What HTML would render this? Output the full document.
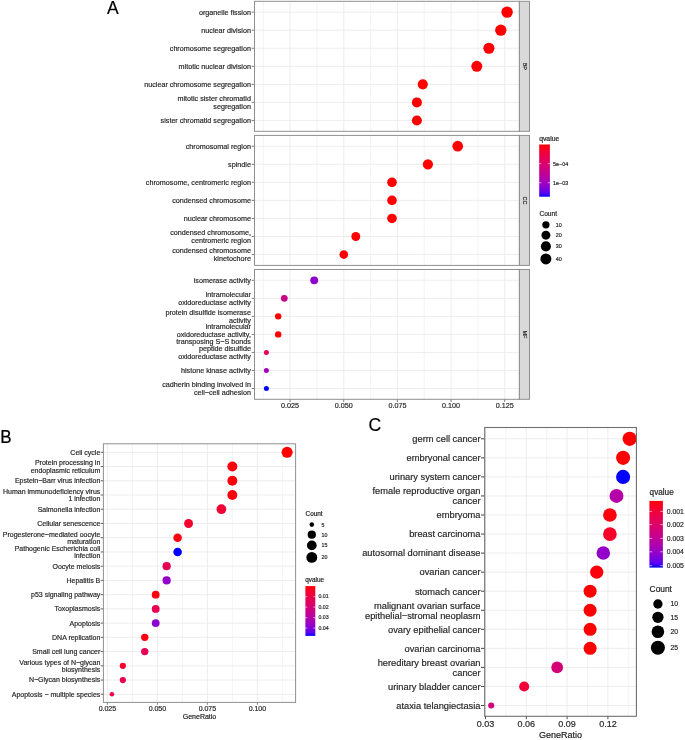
<!DOCTYPE html>
<html><head><meta charset="utf-8"><style>
html,body{margin:0;padding:0;background:#fff;}
body{width:685px;height:740px;overflow:hidden;}
svg{display:block;filter:blur(0.25px);}
text{font-family:"Liberation Sans", sans-serif;}
</style></head><body>
<svg width="685" height="740" viewBox="0 0 685 740">
<rect width="685" height="740" fill="#fff"/>
<rect x="254.5" y="1.3" width="264.9" height="130.0" fill="#fff"/>
<line x1="263.27" y1="1.30" x2="263.27" y2="131.30" stroke="#EBEBEB" stroke-width="0.6"/>
<line x1="316.93" y1="1.30" x2="316.93" y2="131.30" stroke="#EBEBEB" stroke-width="0.6"/>
<line x1="370.59" y1="1.30" x2="370.59" y2="131.30" stroke="#EBEBEB" stroke-width="0.6"/>
<line x1="424.25" y1="1.30" x2="424.25" y2="131.30" stroke="#EBEBEB" stroke-width="0.6"/>
<line x1="477.91" y1="1.30" x2="477.91" y2="131.30" stroke="#EBEBEB" stroke-width="0.6"/>
<line x1="254.50" y1="12.13" x2="519.40" y2="12.13" stroke="#EBEBEB" stroke-width="0.9"/>
<line x1="254.50" y1="30.19" x2="519.40" y2="30.19" stroke="#EBEBEB" stroke-width="0.9"/>
<line x1="254.50" y1="48.24" x2="519.40" y2="48.24" stroke="#EBEBEB" stroke-width="0.9"/>
<line x1="254.50" y1="66.30" x2="519.40" y2="66.30" stroke="#EBEBEB" stroke-width="0.9"/>
<line x1="254.50" y1="84.36" x2="519.40" y2="84.36" stroke="#EBEBEB" stroke-width="0.9"/>
<line x1="254.50" y1="102.41" x2="519.40" y2="102.41" stroke="#EBEBEB" stroke-width="0.9"/>
<line x1="254.50" y1="120.47" x2="519.40" y2="120.47" stroke="#EBEBEB" stroke-width="0.9"/>
<line x1="290.10" y1="1.30" x2="290.10" y2="131.30" stroke="#EBEBEB" stroke-width="0.9"/>
<line x1="343.76" y1="1.30" x2="343.76" y2="131.30" stroke="#EBEBEB" stroke-width="0.9"/>
<line x1="397.42" y1="1.30" x2="397.42" y2="131.30" stroke="#EBEBEB" stroke-width="0.9"/>
<line x1="451.08" y1="1.30" x2="451.08" y2="131.30" stroke="#EBEBEB" stroke-width="0.9"/>
<line x1="504.74" y1="1.30" x2="504.74" y2="131.30" stroke="#EBEBEB" stroke-width="0.9"/>
<circle cx="507.10" cy="12.13" r="5.70" fill="#FF0000"/>
<circle cx="500.80" cy="30.19" r="5.66" fill="#FF0000"/>
<circle cx="488.90" cy="48.24" r="5.58" fill="#FF0000"/>
<circle cx="476.80" cy="66.30" r="5.49" fill="#FF0000"/>
<circle cx="422.80" cy="84.36" r="5.08" fill="#FF0000"/>
<circle cx="416.90" cy="102.41" r="5.03" fill="#FF0000"/>
<circle cx="416.90" cy="120.47" r="5.03" fill="#FF0000"/>
<text x="250.90" y="14.58" font-size="7.2" text-anchor="end" fill="#262626" stroke="#262626" stroke-width="0.18">organelle fission</text>
<line x1="251.70" y1="12.13" x2="254.50" y2="12.13" stroke="#7c7c7c" stroke-width="1.0"/>
<text x="250.90" y="32.64" font-size="7.2" text-anchor="end" fill="#262626" stroke="#262626" stroke-width="0.18">nuclear division</text>
<line x1="251.70" y1="30.19" x2="254.50" y2="30.19" stroke="#7c7c7c" stroke-width="1.0"/>
<text x="250.90" y="50.69" font-size="7.2" text-anchor="end" fill="#262626" stroke="#262626" stroke-width="0.18">chromosome segregation</text>
<line x1="251.70" y1="48.24" x2="254.50" y2="48.24" stroke="#7c7c7c" stroke-width="1.0"/>
<text x="250.90" y="68.75" font-size="7.2" text-anchor="end" fill="#262626" stroke="#262626" stroke-width="0.18">mitotic nuclear division</text>
<line x1="251.70" y1="66.30" x2="254.50" y2="66.30" stroke="#7c7c7c" stroke-width="1.0"/>
<text x="250.90" y="86.81" font-size="7.2" text-anchor="end" fill="#262626" stroke="#262626" stroke-width="0.18">nuclear chromosome segregation</text>
<line x1="251.70" y1="84.36" x2="254.50" y2="84.36" stroke="#7c7c7c" stroke-width="1.0"/>
<text x="250.90" y="101.09" font-size="7.2" text-anchor="end" fill="#262626" stroke="#262626" stroke-width="0.18">mitotic sister chromatid</text>
<text x="250.90" y="108.64" font-size="7.2" text-anchor="end" fill="#262626" stroke="#262626" stroke-width="0.18">segregation</text>
<line x1="251.70" y1="102.41" x2="254.50" y2="102.41" stroke="#7c7c7c" stroke-width="1.0"/>
<text x="250.90" y="122.92" font-size="7.2" text-anchor="end" fill="#262626" stroke="#262626" stroke-width="0.18">sister chromatid segregation</text>
<line x1="251.70" y1="120.47" x2="254.50" y2="120.47" stroke="#7c7c7c" stroke-width="1.0"/>
<rect x="254.5" y="1.3" width="264.9" height="130.0" fill="none" stroke="#8f8f8f" stroke-width="1.0"/>
<rect x="519.4" y="1.3" width="10.100000000000023" height="130.0" fill="#D9D9D9" stroke="#8f8f8f" stroke-width="1.0"/>
<text x="0" y="0" font-size="5.5" text-anchor="middle" fill="#1a1a1a" stroke="#1a1a1a" stroke-width="0.15" transform="translate(522.75,66.30) rotate(90)">BP</text>
<rect x="254.5" y="135.4" width="264.9" height="129.99999999999997" fill="#fff"/>
<line x1="263.27" y1="135.40" x2="263.27" y2="265.40" stroke="#EBEBEB" stroke-width="0.6"/>
<line x1="316.93" y1="135.40" x2="316.93" y2="265.40" stroke="#EBEBEB" stroke-width="0.6"/>
<line x1="370.59" y1="135.40" x2="370.59" y2="265.40" stroke="#EBEBEB" stroke-width="0.6"/>
<line x1="424.25" y1="135.40" x2="424.25" y2="265.40" stroke="#EBEBEB" stroke-width="0.6"/>
<line x1="477.91" y1="135.40" x2="477.91" y2="265.40" stroke="#EBEBEB" stroke-width="0.6"/>
<line x1="254.50" y1="146.23" x2="519.40" y2="146.23" stroke="#EBEBEB" stroke-width="0.9"/>
<line x1="254.50" y1="164.29" x2="519.40" y2="164.29" stroke="#EBEBEB" stroke-width="0.9"/>
<line x1="254.50" y1="182.34" x2="519.40" y2="182.34" stroke="#EBEBEB" stroke-width="0.9"/>
<line x1="254.50" y1="200.40" x2="519.40" y2="200.40" stroke="#EBEBEB" stroke-width="0.9"/>
<line x1="254.50" y1="218.46" x2="519.40" y2="218.46" stroke="#EBEBEB" stroke-width="0.9"/>
<line x1="254.50" y1="236.51" x2="519.40" y2="236.51" stroke="#EBEBEB" stroke-width="0.9"/>
<line x1="254.50" y1="254.57" x2="519.40" y2="254.57" stroke="#EBEBEB" stroke-width="0.9"/>
<line x1="290.10" y1="135.40" x2="290.10" y2="265.40" stroke="#EBEBEB" stroke-width="0.9"/>
<line x1="343.76" y1="135.40" x2="343.76" y2="265.40" stroke="#EBEBEB" stroke-width="0.9"/>
<line x1="397.42" y1="135.40" x2="397.42" y2="265.40" stroke="#EBEBEB" stroke-width="0.9"/>
<line x1="451.08" y1="135.40" x2="451.08" y2="265.40" stroke="#EBEBEB" stroke-width="0.9"/>
<line x1="504.74" y1="135.40" x2="504.74" y2="265.40" stroke="#EBEBEB" stroke-width="0.9"/>
<circle cx="457.70" cy="146.23" r="5.36" fill="#FF0000"/>
<circle cx="427.90" cy="164.29" r="5.13" fill="#FF0000"/>
<circle cx="392.00" cy="182.34" r="4.82" fill="#FF0000"/>
<circle cx="392.00" cy="200.40" r="4.82" fill="#FF0000"/>
<circle cx="392.00" cy="218.46" r="4.82" fill="#FF0000"/>
<circle cx="355.80" cy="236.51" r="4.46" fill="#FF0000"/>
<circle cx="343.80" cy="254.57" r="4.32" fill="#FF0000"/>
<text x="250.90" y="148.68" font-size="7.2" text-anchor="end" fill="#262626" stroke="#262626" stroke-width="0.18">chromosomal region</text>
<line x1="251.70" y1="146.23" x2="254.50" y2="146.23" stroke="#7c7c7c" stroke-width="1.0"/>
<text x="250.90" y="166.74" font-size="7.2" text-anchor="end" fill="#262626" stroke="#262626" stroke-width="0.18">spindle</text>
<line x1="251.70" y1="164.29" x2="254.50" y2="164.29" stroke="#7c7c7c" stroke-width="1.0"/>
<text x="250.90" y="184.79" font-size="7.2" text-anchor="end" fill="#262626" stroke="#262626" stroke-width="0.18">chromosome, centromeric region</text>
<line x1="251.70" y1="182.34" x2="254.50" y2="182.34" stroke="#7c7c7c" stroke-width="1.0"/>
<text x="250.90" y="202.85" font-size="7.2" text-anchor="end" fill="#262626" stroke="#262626" stroke-width="0.18">condensed chromosome</text>
<line x1="251.70" y1="200.40" x2="254.50" y2="200.40" stroke="#7c7c7c" stroke-width="1.0"/>
<text x="250.90" y="220.91" font-size="7.2" text-anchor="end" fill="#262626" stroke="#262626" stroke-width="0.18">nuclear chromosome</text>
<line x1="251.70" y1="218.46" x2="254.50" y2="218.46" stroke="#7c7c7c" stroke-width="1.0"/>
<text x="250.90" y="235.19" font-size="7.2" text-anchor="end" fill="#262626" stroke="#262626" stroke-width="0.18">condensed chromosome,</text>
<text x="250.90" y="242.74" font-size="7.2" text-anchor="end" fill="#262626" stroke="#262626" stroke-width="0.18">centromeric region</text>
<line x1="251.70" y1="236.51" x2="254.50" y2="236.51" stroke="#7c7c7c" stroke-width="1.0"/>
<text x="250.90" y="253.24" font-size="7.2" text-anchor="end" fill="#262626" stroke="#262626" stroke-width="0.18">condensed chromosome</text>
<text x="250.90" y="260.79" font-size="7.2" text-anchor="end" fill="#262626" stroke="#262626" stroke-width="0.18">kinetochore</text>
<line x1="251.70" y1="254.57" x2="254.50" y2="254.57" stroke="#7c7c7c" stroke-width="1.0"/>
<rect x="254.5" y="135.4" width="264.9" height="129.99999999999997" fill="none" stroke="#8f8f8f" stroke-width="1.0"/>
<rect x="519.4" y="135.4" width="10.100000000000023" height="129.99999999999997" fill="#D9D9D9" stroke="#8f8f8f" stroke-width="1.0"/>
<text x="0" y="0" font-size="5.5" text-anchor="middle" fill="#1a1a1a" stroke="#1a1a1a" stroke-width="0.15" transform="translate(522.75,200.40) rotate(90)">CC</text>
<rect x="254.5" y="269.5" width="264.9" height="129.8" fill="#fff"/>
<line x1="263.27" y1="269.50" x2="263.27" y2="399.30" stroke="#EBEBEB" stroke-width="0.6"/>
<line x1="316.93" y1="269.50" x2="316.93" y2="399.30" stroke="#EBEBEB" stroke-width="0.6"/>
<line x1="370.59" y1="269.50" x2="370.59" y2="399.30" stroke="#EBEBEB" stroke-width="0.6"/>
<line x1="424.25" y1="269.50" x2="424.25" y2="399.30" stroke="#EBEBEB" stroke-width="0.6"/>
<line x1="477.91" y1="269.50" x2="477.91" y2="399.30" stroke="#EBEBEB" stroke-width="0.6"/>
<line x1="254.50" y1="280.32" x2="519.40" y2="280.32" stroke="#EBEBEB" stroke-width="0.9"/>
<line x1="254.50" y1="298.34" x2="519.40" y2="298.34" stroke="#EBEBEB" stroke-width="0.9"/>
<line x1="254.50" y1="316.37" x2="519.40" y2="316.37" stroke="#EBEBEB" stroke-width="0.9"/>
<line x1="254.50" y1="334.40" x2="519.40" y2="334.40" stroke="#EBEBEB" stroke-width="0.9"/>
<line x1="254.50" y1="352.43" x2="519.40" y2="352.43" stroke="#EBEBEB" stroke-width="0.9"/>
<line x1="254.50" y1="370.46" x2="519.40" y2="370.46" stroke="#EBEBEB" stroke-width="0.9"/>
<line x1="254.50" y1="388.48" x2="519.40" y2="388.48" stroke="#EBEBEB" stroke-width="0.9"/>
<line x1="290.10" y1="269.50" x2="290.10" y2="399.30" stroke="#EBEBEB" stroke-width="0.9"/>
<line x1="343.76" y1="269.50" x2="343.76" y2="399.30" stroke="#EBEBEB" stroke-width="0.9"/>
<line x1="397.42" y1="269.50" x2="397.42" y2="399.30" stroke="#EBEBEB" stroke-width="0.9"/>
<line x1="451.08" y1="269.50" x2="451.08" y2="399.30" stroke="#EBEBEB" stroke-width="0.9"/>
<line x1="504.74" y1="269.50" x2="504.74" y2="399.30" stroke="#EBEBEB" stroke-width="0.9"/>
<circle cx="314.20" cy="280.32" r="3.93" fill="#8D00CE"/>
<circle cx="284.30" cy="298.34" r="3.38" fill="#CA0088"/>
<circle cx="278.20" cy="316.37" r="3.22" fill="#FF0000"/>
<circle cx="278.20" cy="334.40" r="3.22" fill="#FF0000"/>
<circle cx="266.40" cy="352.43" r="2.50" fill="#E3005B"/>
<circle cx="266.40" cy="370.46" r="2.50" fill="#A200BB"/>
<circle cx="266.40" cy="388.48" r="2.50" fill="#0000FF"/>
<text x="250.90" y="282.77" font-size="7.2" text-anchor="end" fill="#262626" stroke="#262626" stroke-width="0.18">isomerase activity</text>
<line x1="251.70" y1="280.32" x2="254.50" y2="280.32" stroke="#7c7c7c" stroke-width="1.0"/>
<text x="250.90" y="297.02" font-size="7.2" text-anchor="end" fill="#262626" stroke="#262626" stroke-width="0.18">intramolecular</text>
<text x="250.90" y="304.57" font-size="7.2" text-anchor="end" fill="#262626" stroke="#262626" stroke-width="0.18">oxidoreductase activity</text>
<line x1="251.70" y1="298.34" x2="254.50" y2="298.34" stroke="#7c7c7c" stroke-width="1.0"/>
<text x="250.90" y="315.05" font-size="7.2" text-anchor="end" fill="#262626" stroke="#262626" stroke-width="0.18">protein disulfide isomerase</text>
<text x="250.90" y="322.60" font-size="7.2" text-anchor="end" fill="#262626" stroke="#262626" stroke-width="0.18">activity</text>
<line x1="251.70" y1="316.37" x2="254.50" y2="316.37" stroke="#7c7c7c" stroke-width="1.0"/>
<text x="250.90" y="329.30" font-size="7.2" text-anchor="end" fill="#262626" stroke="#262626" stroke-width="0.18">intramolecular</text>
<text x="250.90" y="336.85" font-size="7.2" text-anchor="end" fill="#262626" stroke="#262626" stroke-width="0.18">oxidoreductase activity,</text>
<text x="250.90" y="344.40" font-size="7.2" text-anchor="end" fill="#262626" stroke="#262626" stroke-width="0.18">transposing S−S bonds</text>
<line x1="251.70" y1="334.40" x2="254.50" y2="334.40" stroke="#7c7c7c" stroke-width="1.0"/>
<text x="250.90" y="351.10" font-size="7.2" text-anchor="end" fill="#262626" stroke="#262626" stroke-width="0.18">peptide disulfide</text>
<text x="250.90" y="358.65" font-size="7.2" text-anchor="end" fill="#262626" stroke="#262626" stroke-width="0.18">oxidoreductase activity</text>
<line x1="251.70" y1="352.43" x2="254.50" y2="352.43" stroke="#7c7c7c" stroke-width="1.0"/>
<text x="250.90" y="372.91" font-size="7.2" text-anchor="end" fill="#262626" stroke="#262626" stroke-width="0.18">histone kinase activity</text>
<line x1="251.70" y1="370.46" x2="254.50" y2="370.46" stroke="#7c7c7c" stroke-width="1.0"/>
<text x="250.90" y="387.16" font-size="7.2" text-anchor="end" fill="#262626" stroke="#262626" stroke-width="0.18">cadherin binding involved in</text>
<text x="250.90" y="394.71" font-size="7.2" text-anchor="end" fill="#262626" stroke="#262626" stroke-width="0.18">cell−cell adhesion</text>
<line x1="251.70" y1="388.48" x2="254.50" y2="388.48" stroke="#7c7c7c" stroke-width="1.0"/>
<rect x="254.5" y="269.5" width="264.9" height="129.8" fill="none" stroke="#8f8f8f" stroke-width="1.0"/>
<rect x="519.4" y="269.5" width="10.100000000000023" height="129.8" fill="#D9D9D9" stroke="#8f8f8f" stroke-width="1.0"/>
<text x="0" y="0" font-size="5.5" text-anchor="middle" fill="#1a1a1a" stroke="#1a1a1a" stroke-width="0.15" transform="translate(522.75,334.40) rotate(90)">MF</text>
<line x1="290.10" y1="399.30" x2="290.10" y2="402.00" stroke="#7c7c7c" stroke-width="1.0"/>
<text x="290.10" y="407.70" font-size="7.2" text-anchor="middle" fill="#262626" stroke="#262626" stroke-width="0.18">0.025</text>
<line x1="343.76" y1="399.30" x2="343.76" y2="402.00" stroke="#7c7c7c" stroke-width="1.0"/>
<text x="343.76" y="407.70" font-size="7.2" text-anchor="middle" fill="#262626" stroke="#262626" stroke-width="0.18">0.050</text>
<line x1="397.42" y1="399.30" x2="397.42" y2="402.00" stroke="#7c7c7c" stroke-width="1.0"/>
<text x="397.42" y="407.70" font-size="7.2" text-anchor="middle" fill="#262626" stroke="#262626" stroke-width="0.18">0.075</text>
<line x1="451.08" y1="399.30" x2="451.08" y2="402.00" stroke="#7c7c7c" stroke-width="1.0"/>
<text x="451.08" y="407.70" font-size="7.2" text-anchor="middle" fill="#262626" stroke="#262626" stroke-width="0.18">0.100</text>
<line x1="504.74" y1="399.30" x2="504.74" y2="402.00" stroke="#7c7c7c" stroke-width="1.0"/>
<text x="504.74" y="407.70" font-size="7.2" text-anchor="middle" fill="#262626" stroke="#262626" stroke-width="0.18">0.125</text>
<text x="539.20" y="140.80" font-size="6.8" text-anchor="start" fill="#1a1a1a" stroke="#1a1a1a" stroke-width="0.18">qvalue</text>
<defs><linearGradient id="gA" x1="0" y1="0" x2="0" y2="1"><stop offset="0.000" stop-color="#FF0000"/><stop offset="0.050" stop-color="#FB001A"/><stop offset="0.100" stop-color="#F6002A"/><stop offset="0.150" stop-color="#F20037"/><stop offset="0.200" stop-color="#ED0044"/><stop offset="0.250" stop-color="#E80050"/><stop offset="0.300" stop-color="#E3005B"/><stop offset="0.350" stop-color="#DD0066"/><stop offset="0.400" stop-color="#D70072"/><stop offset="0.450" stop-color="#D1007D"/><stop offset="0.500" stop-color="#CA0088"/><stop offset="0.550" stop-color="#C20094"/><stop offset="0.600" stop-color="#BA009F"/><stop offset="0.650" stop-color="#B000AB"/><stop offset="0.700" stop-color="#A600B7"/><stop offset="0.750" stop-color="#9A00C3"/><stop offset="0.800" stop-color="#8D00CE"/><stop offset="0.850" stop-color="#7C00DA"/><stop offset="0.900" stop-color="#6800E7"/><stop offset="0.950" stop-color="#4B00F3"/><stop offset="1.000" stop-color="#0000FF"/></linearGradient></defs>
<rect x="539.2" y="144.5" width="10.699999999999932" height="52.19999999999999" fill="url(#gA)"/>
<line x1="539.20" y1="163.60" x2="541.34" y2="163.60" stroke="#ffffff" stroke-width="0.6"/>
<line x1="547.76" y1="163.60" x2="549.90" y2="163.60" stroke="#ffffff" stroke-width="0.6"/>
<line x1="539.20" y1="182.70" x2="541.34" y2="182.70" stroke="#ffffff" stroke-width="0.6"/>
<line x1="547.76" y1="182.70" x2="549.90" y2="182.70" stroke="#ffffff" stroke-width="0.6"/>
<text x="553.00" y="165.60" font-size="5.4" text-anchor="start" fill="#262626" stroke="#262626" stroke-width="0.18">5e−04</text>
<text x="553.00" y="184.70" font-size="5.4" text-anchor="start" fill="#262626" stroke="#262626" stroke-width="0.18">1e−03</text>
<text x="539.40" y="215.60" font-size="6.6" text-anchor="start" fill="#1a1a1a" stroke="#1a1a1a" stroke-width="0.18">Count</text>
<circle cx="545.90" cy="224.80" r="3.63" fill="#000"/>
<text x="555.80" y="226.70" font-size="5.4" text-anchor="start" fill="#262626" stroke="#262626" stroke-width="0.18">10</text>
<circle cx="545.90" cy="235.20" r="4.46" fill="#000"/>
<text x="555.80" y="237.10" font-size="5.4" text-anchor="start" fill="#262626" stroke="#262626" stroke-width="0.18">20</text>
<circle cx="545.90" cy="246.40" r="5.03" fill="#000"/>
<text x="555.80" y="248.30" font-size="5.4" text-anchor="start" fill="#262626" stroke="#262626" stroke-width="0.18">30</text>
<circle cx="545.90" cy="258.90" r="5.49" fill="#000"/>
<text x="555.80" y="260.80" font-size="5.4" text-anchor="start" fill="#262626" stroke="#262626" stroke-width="0.18">40</text>
<text x="106.95" y="13.50" font-size="17.5" text-anchor="start" fill="#000" stroke="#000" stroke-width="0.18">A</text>
<rect x="103.4" y="443.8" width="192.20000000000002" height="258.59999999999997" fill="#fff"/>
<line x1="132.40" y1="443.80" x2="132.40" y2="702.40" stroke="#EBEBEB" stroke-width="0.6"/>
<line x1="182.40" y1="443.80" x2="182.40" y2="702.40" stroke="#EBEBEB" stroke-width="0.6"/>
<line x1="232.40" y1="443.80" x2="232.40" y2="702.40" stroke="#EBEBEB" stroke-width="0.6"/>
<line x1="282.40" y1="443.80" x2="282.40" y2="702.40" stroke="#EBEBEB" stroke-width="0.6"/>
<line x1="103.40" y1="452.30" x2="295.60" y2="452.30" stroke="#EBEBEB" stroke-width="0.9"/>
<line x1="103.40" y1="466.54" x2="295.60" y2="466.54" stroke="#EBEBEB" stroke-width="0.9"/>
<line x1="103.40" y1="480.77" x2="295.60" y2="480.77" stroke="#EBEBEB" stroke-width="0.9"/>
<line x1="103.40" y1="495.00" x2="295.60" y2="495.00" stroke="#EBEBEB" stroke-width="0.9"/>
<line x1="103.40" y1="509.24" x2="295.60" y2="509.24" stroke="#EBEBEB" stroke-width="0.9"/>
<line x1="103.40" y1="523.48" x2="295.60" y2="523.48" stroke="#EBEBEB" stroke-width="0.9"/>
<line x1="103.40" y1="537.71" x2="295.60" y2="537.71" stroke="#EBEBEB" stroke-width="0.9"/>
<line x1="103.40" y1="551.95" x2="295.60" y2="551.95" stroke="#EBEBEB" stroke-width="0.9"/>
<line x1="103.40" y1="566.18" x2="295.60" y2="566.18" stroke="#EBEBEB" stroke-width="0.9"/>
<line x1="103.40" y1="580.41" x2="295.60" y2="580.41" stroke="#EBEBEB" stroke-width="0.9"/>
<line x1="103.40" y1="594.65" x2="295.60" y2="594.65" stroke="#EBEBEB" stroke-width="0.9"/>
<line x1="103.40" y1="608.88" x2="295.60" y2="608.88" stroke="#EBEBEB" stroke-width="0.9"/>
<line x1="103.40" y1="623.12" x2="295.60" y2="623.12" stroke="#EBEBEB" stroke-width="0.9"/>
<line x1="103.40" y1="637.36" x2="295.60" y2="637.36" stroke="#EBEBEB" stroke-width="0.9"/>
<line x1="103.40" y1="651.59" x2="295.60" y2="651.59" stroke="#EBEBEB" stroke-width="0.9"/>
<line x1="103.40" y1="665.83" x2="295.60" y2="665.83" stroke="#EBEBEB" stroke-width="0.9"/>
<line x1="103.40" y1="680.06" x2="295.60" y2="680.06" stroke="#EBEBEB" stroke-width="0.9"/>
<line x1="103.40" y1="694.30" x2="295.60" y2="694.30" stroke="#EBEBEB" stroke-width="0.9"/>
<line x1="107.40" y1="443.80" x2="107.40" y2="702.40" stroke="#EBEBEB" stroke-width="0.9"/>
<line x1="157.40" y1="443.80" x2="157.40" y2="702.40" stroke="#EBEBEB" stroke-width="0.9"/>
<line x1="207.40" y1="443.80" x2="207.40" y2="702.40" stroke="#EBEBEB" stroke-width="0.9"/>
<line x1="257.40" y1="443.80" x2="257.40" y2="702.40" stroke="#EBEBEB" stroke-width="0.9"/>
<circle cx="287.10" cy="452.30" r="5.55" fill="#FF0000"/>
<circle cx="232.35" cy="466.54" r="4.99" fill="#FD000D"/>
<circle cx="232.35" cy="480.77" r="4.99" fill="#FD000D"/>
<circle cx="232.35" cy="495.00" r="4.99" fill="#FD000D"/>
<circle cx="221.40" cy="509.24" r="4.87" fill="#F20037"/>
<circle cx="188.55" cy="523.48" r="4.45" fill="#F50030"/>
<circle cx="177.60" cy="537.71" r="4.29" fill="#FC0012"/>
<circle cx="177.60" cy="551.95" r="4.29" fill="#0000FF"/>
<circle cx="166.65" cy="566.18" r="4.12" fill="#E80050"/>
<circle cx="166.65" cy="580.41" r="4.12" fill="#9200CA"/>
<circle cx="155.70" cy="594.65" r="3.92" fill="#FD000D"/>
<circle cx="155.70" cy="608.88" r="3.92" fill="#E80050"/>
<circle cx="155.70" cy="623.12" r="3.92" fill="#8D00CE"/>
<circle cx="144.75" cy="637.36" r="3.71" fill="#FD000D"/>
<circle cx="144.75" cy="651.59" r="3.71" fill="#E50056"/>
<circle cx="122.85" cy="665.83" r="3.11" fill="#F6002A"/>
<circle cx="122.85" cy="680.06" r="3.11" fill="#E80050"/>
<circle cx="111.90" cy="694.30" r="2.30" fill="#EB0049"/>
<text x="100.30" y="454.70" font-size="7.0" text-anchor="end" fill="#262626" stroke="#262626" stroke-width="0.18">Cell cycle</text>
<line x1="100.70" y1="452.30" x2="103.40" y2="452.30" stroke="#5f5f5f" stroke-width="1.0"/>
<text x="100.30" y="465.33" font-size="7.0" text-anchor="end" fill="#262626" stroke="#262626" stroke-width="0.18">Protein processing in</text>
<text x="100.30" y="472.54" font-size="7.0" text-anchor="end" fill="#262626" stroke="#262626" stroke-width="0.18">endoplasmic reticulum</text>
<line x1="100.70" y1="466.54" x2="103.40" y2="466.54" stroke="#5f5f5f" stroke-width="1.0"/>
<text x="100.30" y="483.17" font-size="7.0" text-anchor="end" fill="#262626" stroke="#262626" stroke-width="0.18">Epstein−Barr virus infection</text>
<line x1="100.70" y1="480.77" x2="103.40" y2="480.77" stroke="#5f5f5f" stroke-width="1.0"/>
<text x="100.30" y="493.80" font-size="7.0" text-anchor="end" fill="#262626" stroke="#262626" stroke-width="0.18">Human immunodeficiency virus</text>
<text x="100.30" y="501.00" font-size="7.0" text-anchor="end" fill="#262626" stroke="#262626" stroke-width="0.18">1 infection</text>
<line x1="100.70" y1="495.00" x2="103.40" y2="495.00" stroke="#5f5f5f" stroke-width="1.0"/>
<text x="100.30" y="511.64" font-size="7.0" text-anchor="end" fill="#262626" stroke="#262626" stroke-width="0.18">Salmonella infection</text>
<line x1="100.70" y1="509.24" x2="103.40" y2="509.24" stroke="#5f5f5f" stroke-width="1.0"/>
<text x="100.30" y="525.88" font-size="7.0" text-anchor="end" fill="#262626" stroke="#262626" stroke-width="0.18">Cellular senescence</text>
<line x1="100.70" y1="523.48" x2="103.40" y2="523.48" stroke="#5f5f5f" stroke-width="1.0"/>
<text x="100.30" y="536.51" font-size="7.0" text-anchor="end" fill="#262626" stroke="#262626" stroke-width="0.18">Progesterone−mediated oocyte</text>
<text x="100.30" y="543.71" font-size="7.0" text-anchor="end" fill="#262626" stroke="#262626" stroke-width="0.18">maturation</text>
<line x1="100.70" y1="537.71" x2="103.40" y2="537.71" stroke="#5f5f5f" stroke-width="1.0"/>
<text x="100.30" y="550.75" font-size="7.0" text-anchor="end" fill="#262626" stroke="#262626" stroke-width="0.18">Pathogenic Escherichia coli</text>
<text x="100.30" y="557.95" font-size="7.0" text-anchor="end" fill="#262626" stroke="#262626" stroke-width="0.18">infection</text>
<line x1="100.70" y1="551.95" x2="103.40" y2="551.95" stroke="#5f5f5f" stroke-width="1.0"/>
<text x="100.30" y="568.58" font-size="7.0" text-anchor="end" fill="#262626" stroke="#262626" stroke-width="0.18">Oocyte meiosis</text>
<line x1="100.70" y1="566.18" x2="103.40" y2="566.18" stroke="#5f5f5f" stroke-width="1.0"/>
<text x="100.30" y="582.81" font-size="7.0" text-anchor="end" fill="#262626" stroke="#262626" stroke-width="0.18">Hepatitis B</text>
<line x1="100.70" y1="580.41" x2="103.40" y2="580.41" stroke="#5f5f5f" stroke-width="1.0"/>
<text x="100.30" y="597.05" font-size="7.0" text-anchor="end" fill="#262626" stroke="#262626" stroke-width="0.18">p53 signaling pathway</text>
<line x1="100.70" y1="594.65" x2="103.40" y2="594.65" stroke="#5f5f5f" stroke-width="1.0"/>
<text x="100.30" y="611.28" font-size="7.0" text-anchor="end" fill="#262626" stroke="#262626" stroke-width="0.18">Toxoplasmosis</text>
<line x1="100.70" y1="608.88" x2="103.40" y2="608.88" stroke="#5f5f5f" stroke-width="1.0"/>
<text x="100.30" y="625.52" font-size="7.0" text-anchor="end" fill="#262626" stroke="#262626" stroke-width="0.18">Apoptosis</text>
<line x1="100.70" y1="623.12" x2="103.40" y2="623.12" stroke="#5f5f5f" stroke-width="1.0"/>
<text x="100.30" y="639.75" font-size="7.0" text-anchor="end" fill="#262626" stroke="#262626" stroke-width="0.18">DNA replication</text>
<line x1="100.70" y1="637.36" x2="103.40" y2="637.36" stroke="#5f5f5f" stroke-width="1.0"/>
<text x="100.30" y="653.99" font-size="7.0" text-anchor="end" fill="#262626" stroke="#262626" stroke-width="0.18">Small cell lung cancer</text>
<line x1="100.70" y1="651.59" x2="103.40" y2="651.59" stroke="#5f5f5f" stroke-width="1.0"/>
<text x="100.30" y="664.62" font-size="7.0" text-anchor="end" fill="#262626" stroke="#262626" stroke-width="0.18">Various types of N−glycan</text>
<text x="100.30" y="671.83" font-size="7.0" text-anchor="end" fill="#262626" stroke="#262626" stroke-width="0.18">biosynthesis</text>
<line x1="100.70" y1="665.83" x2="103.40" y2="665.83" stroke="#5f5f5f" stroke-width="1.0"/>
<text x="100.30" y="682.46" font-size="7.0" text-anchor="end" fill="#262626" stroke="#262626" stroke-width="0.18">N−Glycan biosynthesis</text>
<line x1="100.70" y1="680.06" x2="103.40" y2="680.06" stroke="#5f5f5f" stroke-width="1.0"/>
<text x="100.30" y="696.70" font-size="7.0" text-anchor="end" fill="#262626" stroke="#262626" stroke-width="0.18">Apoptosis − multiple species</text>
<line x1="100.70" y1="694.30" x2="103.40" y2="694.30" stroke="#5f5f5f" stroke-width="1.0"/>
<rect x="103.4" y="443.8" width="192.20000000000002" height="258.59999999999997" fill="none" stroke="#8f8f8f" stroke-width="1.0"/>
<line x1="107.40" y1="702.40" x2="107.40" y2="704.80" stroke="#8a8a8a" stroke-width="1.0"/>
<text x="107.40" y="710.90" font-size="7.0" text-anchor="middle" fill="#262626" stroke="#262626" stroke-width="0.18">0.025</text>
<line x1="157.40" y1="702.40" x2="157.40" y2="704.80" stroke="#8a8a8a" stroke-width="1.0"/>
<text x="157.40" y="710.90" font-size="7.0" text-anchor="middle" fill="#262626" stroke="#262626" stroke-width="0.18">0.050</text>
<line x1="207.40" y1="702.40" x2="207.40" y2="704.80" stroke="#8a8a8a" stroke-width="1.0"/>
<text x="207.40" y="710.90" font-size="7.0" text-anchor="middle" fill="#262626" stroke="#262626" stroke-width="0.18">0.075</text>
<line x1="257.40" y1="702.40" x2="257.40" y2="704.80" stroke="#8a8a8a" stroke-width="1.0"/>
<text x="257.40" y="710.90" font-size="7.0" text-anchor="middle" fill="#262626" stroke="#262626" stroke-width="0.18">0.100</text>
<text x="199.50" y="719.30" font-size="7.0" text-anchor="middle" fill="#1a1a1a" stroke="#1a1a1a" stroke-width="0.18">GeneRatio</text>
<text x="305.60" y="515.90" font-size="6.4" text-anchor="start" fill="#1a1a1a" stroke="#1a1a1a" stroke-width="0.18">Count</text>
<circle cx="311.80" cy="524.60" r="2.30" fill="#000"/>
<text x="321.50" y="526.50" font-size="5.3" text-anchor="start" fill="#262626" stroke="#262626" stroke-width="0.18">5</text>
<circle cx="311.80" cy="534.70" r="4.12" fill="#000"/>
<text x="321.50" y="536.60" font-size="5.3" text-anchor="start" fill="#262626" stroke="#262626" stroke-width="0.18">10</text>
<circle cx="311.80" cy="545.40" r="4.87" fill="#000"/>
<text x="321.50" y="547.30" font-size="5.3" text-anchor="start" fill="#262626" stroke="#262626" stroke-width="0.18">15</text>
<circle cx="311.80" cy="557.40" r="5.45" fill="#000"/>
<text x="321.50" y="559.30" font-size="5.3" text-anchor="start" fill="#262626" stroke="#262626" stroke-width="0.18">20</text>
<text x="305.20" y="582.00" font-size="6.4" text-anchor="start" fill="#1a1a1a" stroke="#1a1a1a" stroke-width="0.18">qvalue</text>
<defs><linearGradient id="gB" x1="0" y1="0" x2="0" y2="1"><stop offset="0.000" stop-color="#FF0000"/><stop offset="0.050" stop-color="#FB001A"/><stop offset="0.100" stop-color="#F6002A"/><stop offset="0.150" stop-color="#F20037"/><stop offset="0.200" stop-color="#ED0044"/><stop offset="0.250" stop-color="#E80050"/><stop offset="0.300" stop-color="#E3005B"/><stop offset="0.350" stop-color="#DD0066"/><stop offset="0.400" stop-color="#D70072"/><stop offset="0.450" stop-color="#D1007D"/><stop offset="0.500" stop-color="#CA0088"/><stop offset="0.550" stop-color="#C20094"/><stop offset="0.600" stop-color="#BA009F"/><stop offset="0.650" stop-color="#B000AB"/><stop offset="0.700" stop-color="#A600B7"/><stop offset="0.750" stop-color="#9A00C3"/><stop offset="0.800" stop-color="#8D00CE"/><stop offset="0.850" stop-color="#7C00DA"/><stop offset="0.900" stop-color="#6800E7"/><stop offset="0.950" stop-color="#4B00F3"/><stop offset="1.000" stop-color="#0000FF"/></linearGradient></defs>
<rect x="305.4" y="586.1" width="9.900000000000034" height="49.799999999999955" fill="url(#gB)"/>
<line x1="305.40" y1="596.70" x2="307.38" y2="596.70" stroke="#ffffff" stroke-width="0.6"/>
<line x1="313.32" y1="596.70" x2="315.30" y2="596.70" stroke="#ffffff" stroke-width="0.6"/>
<line x1="305.40" y1="607.10" x2="307.38" y2="607.10" stroke="#ffffff" stroke-width="0.6"/>
<line x1="313.32" y1="607.10" x2="315.30" y2="607.10" stroke="#ffffff" stroke-width="0.6"/>
<line x1="305.40" y1="617.70" x2="307.38" y2="617.70" stroke="#ffffff" stroke-width="0.6"/>
<line x1="313.32" y1="617.70" x2="315.30" y2="617.70" stroke="#ffffff" stroke-width="0.6"/>
<line x1="305.40" y1="628.10" x2="307.38" y2="628.10" stroke="#ffffff" stroke-width="0.6"/>
<line x1="313.32" y1="628.10" x2="315.30" y2="628.10" stroke="#ffffff" stroke-width="0.6"/>
<text x="318.40" y="598.20" font-size="5.3" text-anchor="start" fill="#262626" stroke="#262626" stroke-width="0.18">0.01</text>
<text x="318.40" y="608.60" font-size="5.3" text-anchor="start" fill="#262626" stroke="#262626" stroke-width="0.18">0.02</text>
<text x="318.40" y="619.20" font-size="5.3" text-anchor="start" fill="#262626" stroke="#262626" stroke-width="0.18">0.03</text>
<text x="318.40" y="629.60" font-size="5.3" text-anchor="start" fill="#262626" stroke="#262626" stroke-width="0.18">0.04</text>
<text x="0" y="0" font-size="17.6" fill="#000" stroke="#000" stroke-width="0.25" transform="translate(0.15,443.0) scale(0.965,1)">B</text>
<rect x="484.7" y="427.5" width="151.7" height="288.79999999999995" fill="#fff"/>
<line x1="505.90" y1="427.50" x2="505.90" y2="716.30" stroke="#EBEBEB" stroke-width="0.6"/>
<line x1="546.70" y1="427.50" x2="546.70" y2="716.30" stroke="#EBEBEB" stroke-width="0.6"/>
<line x1="587.50" y1="427.50" x2="587.50" y2="716.30" stroke="#EBEBEB" stroke-width="0.6"/>
<line x1="628.30" y1="427.50" x2="628.30" y2="716.30" stroke="#EBEBEB" stroke-width="0.6"/>
<line x1="484.70" y1="438.80" x2="636.40" y2="438.80" stroke="#EBEBEB" stroke-width="0.9"/>
<line x1="484.70" y1="457.85" x2="636.40" y2="457.85" stroke="#EBEBEB" stroke-width="0.9"/>
<line x1="484.70" y1="476.90" x2="636.40" y2="476.90" stroke="#EBEBEB" stroke-width="0.9"/>
<line x1="484.70" y1="495.95" x2="636.40" y2="495.95" stroke="#EBEBEB" stroke-width="0.9"/>
<line x1="484.70" y1="515.00" x2="636.40" y2="515.00" stroke="#EBEBEB" stroke-width="0.9"/>
<line x1="484.70" y1="534.05" x2="636.40" y2="534.05" stroke="#EBEBEB" stroke-width="0.9"/>
<line x1="484.70" y1="553.10" x2="636.40" y2="553.10" stroke="#EBEBEB" stroke-width="0.9"/>
<line x1="484.70" y1="572.15" x2="636.40" y2="572.15" stroke="#EBEBEB" stroke-width="0.9"/>
<line x1="484.70" y1="591.20" x2="636.40" y2="591.20" stroke="#EBEBEB" stroke-width="0.9"/>
<line x1="484.70" y1="610.25" x2="636.40" y2="610.25" stroke="#EBEBEB" stroke-width="0.9"/>
<line x1="484.70" y1="629.30" x2="636.40" y2="629.30" stroke="#EBEBEB" stroke-width="0.9"/>
<line x1="484.70" y1="648.35" x2="636.40" y2="648.35" stroke="#EBEBEB" stroke-width="0.9"/>
<line x1="484.70" y1="667.40" x2="636.40" y2="667.40" stroke="#EBEBEB" stroke-width="0.9"/>
<line x1="484.70" y1="686.45" x2="636.40" y2="686.45" stroke="#EBEBEB" stroke-width="0.9"/>
<line x1="484.70" y1="705.50" x2="636.40" y2="705.50" stroke="#EBEBEB" stroke-width="0.9"/>
<line x1="485.50" y1="427.50" x2="485.50" y2="716.30" stroke="#EBEBEB" stroke-width="0.9"/>
<line x1="526.30" y1="427.50" x2="526.30" y2="716.30" stroke="#EBEBEB" stroke-width="0.9"/>
<line x1="567.10" y1="427.50" x2="567.10" y2="716.30" stroke="#EBEBEB" stroke-width="0.9"/>
<line x1="607.90" y1="427.50" x2="607.90" y2="716.30" stroke="#EBEBEB" stroke-width="0.9"/>
<circle cx="629.69" cy="438.80" r="7.15" fill="#FF0000"/>
<circle cx="623.10" cy="457.85" r="7.05" fill="#FF0000"/>
<circle cx="623.10" cy="476.90" r="7.05" fill="#0000FF"/>
<circle cx="616.50" cy="495.95" r="6.95" fill="#B400A6"/>
<circle cx="609.91" cy="515.00" r="6.85" fill="#FD000D"/>
<circle cx="609.91" cy="534.05" r="6.85" fill="#F6002A"/>
<circle cx="603.31" cy="553.10" r="6.74" fill="#9200CA"/>
<circle cx="596.72" cy="572.15" r="6.63" fill="#FD000D"/>
<circle cx="590.12" cy="591.20" r="6.52" fill="#FF0000"/>
<circle cx="590.12" cy="610.25" r="6.52" fill="#FF0000"/>
<circle cx="590.12" cy="629.30" r="6.52" fill="#FF0000"/>
<circle cx="590.12" cy="648.35" r="6.52" fill="#FF0000"/>
<circle cx="557.15" cy="667.40" r="5.88" fill="#D40076"/>
<circle cx="524.17" cy="686.45" r="5.05" fill="#F20037"/>
<circle cx="491.20" cy="705.50" r="3.05" fill="#D1007D"/>
<text x="480.50" y="442.10" font-size="9.3" text-anchor="end" fill="#262626" stroke="#262626" stroke-width="0.18">germ cell cancer</text>
<line x1="481.00" y1="438.80" x2="484.70" y2="438.80" stroke="#444444" stroke-width="1.0"/>
<text x="480.50" y="461.15" font-size="9.3" text-anchor="end" fill="#262626" stroke="#262626" stroke-width="0.18">embryonal cancer</text>
<line x1="481.00" y1="457.85" x2="484.70" y2="457.85" stroke="#444444" stroke-width="1.0"/>
<text x="480.50" y="480.20" font-size="9.3" text-anchor="end" fill="#262626" stroke="#262626" stroke-width="0.18">urinary system cancer</text>
<line x1="481.00" y1="476.90" x2="484.70" y2="476.90" stroke="#444444" stroke-width="1.0"/>
<text x="480.50" y="494.30" font-size="9.3" text-anchor="end" fill="#262626" stroke="#262626" stroke-width="0.18">female reproductive organ</text>
<text x="480.50" y="504.20" font-size="9.3" text-anchor="end" fill="#262626" stroke="#262626" stroke-width="0.18">cancer</text>
<line x1="481.00" y1="495.95" x2="484.70" y2="495.95" stroke="#444444" stroke-width="1.0"/>
<text x="480.50" y="518.30" font-size="9.3" text-anchor="end" fill="#262626" stroke="#262626" stroke-width="0.18">embryoma</text>
<line x1="481.00" y1="515.00" x2="484.70" y2="515.00" stroke="#444444" stroke-width="1.0"/>
<text x="480.50" y="537.35" font-size="9.3" text-anchor="end" fill="#262626" stroke="#262626" stroke-width="0.18">breast carcinoma</text>
<line x1="481.00" y1="534.05" x2="484.70" y2="534.05" stroke="#444444" stroke-width="1.0"/>
<text x="480.50" y="556.40" font-size="9.3" text-anchor="end" fill="#262626" stroke="#262626" stroke-width="0.18">autosomal dominant disease</text>
<line x1="481.00" y1="553.10" x2="484.70" y2="553.10" stroke="#444444" stroke-width="1.0"/>
<text x="480.50" y="575.45" font-size="9.3" text-anchor="end" fill="#262626" stroke="#262626" stroke-width="0.18">ovarian cancer</text>
<line x1="481.00" y1="572.15" x2="484.70" y2="572.15" stroke="#444444" stroke-width="1.0"/>
<text x="480.50" y="594.50" font-size="9.3" text-anchor="end" fill="#262626" stroke="#262626" stroke-width="0.18">stomach cancer</text>
<line x1="481.00" y1="591.20" x2="484.70" y2="591.20" stroke="#444444" stroke-width="1.0"/>
<text x="480.50" y="608.60" font-size="9.3" text-anchor="end" fill="#262626" stroke="#262626" stroke-width="0.18">malignant ovarian surface</text>
<text x="480.50" y="618.50" font-size="9.3" text-anchor="end" fill="#262626" stroke="#262626" stroke-width="0.18">epithelial−stromal neoplasm</text>
<line x1="481.00" y1="610.25" x2="484.70" y2="610.25" stroke="#444444" stroke-width="1.0"/>
<text x="480.50" y="632.60" font-size="9.3" text-anchor="end" fill="#262626" stroke="#262626" stroke-width="0.18">ovary epithelial cancer</text>
<line x1="481.00" y1="629.30" x2="484.70" y2="629.30" stroke="#444444" stroke-width="1.0"/>
<text x="480.50" y="651.65" font-size="9.3" text-anchor="end" fill="#262626" stroke="#262626" stroke-width="0.18">ovarian carcinoma</text>
<line x1="481.00" y1="648.35" x2="484.70" y2="648.35" stroke="#444444" stroke-width="1.0"/>
<text x="480.50" y="665.75" font-size="9.3" text-anchor="end" fill="#262626" stroke="#262626" stroke-width="0.18">hereditary breast ovarian</text>
<text x="480.50" y="675.65" font-size="9.3" text-anchor="end" fill="#262626" stroke="#262626" stroke-width="0.18">cancer</text>
<line x1="481.00" y1="667.40" x2="484.70" y2="667.40" stroke="#444444" stroke-width="1.0"/>
<text x="480.50" y="689.75" font-size="9.3" text-anchor="end" fill="#262626" stroke="#262626" stroke-width="0.18">urinary bladder cancer</text>
<line x1="481.00" y1="686.45" x2="484.70" y2="686.45" stroke="#444444" stroke-width="1.0"/>
<text x="480.50" y="708.80" font-size="9.3" text-anchor="end" fill="#262626" stroke="#262626" stroke-width="0.18">ataxia telangiectasia</text>
<line x1="481.00" y1="705.50" x2="484.70" y2="705.50" stroke="#444444" stroke-width="1.0"/>
<rect x="484.7" y="427.5" width="151.7" height="288.79999999999995" fill="none" stroke="#707070" stroke-width="1.1"/>
<line x1="485.50" y1="716.30" x2="485.50" y2="719.20" stroke="#505050" stroke-width="1.0"/>
<text x="485.50" y="726.80" font-size="9.0" text-anchor="middle" fill="#262626" stroke="#262626" stroke-width="0.18">0.03</text>
<line x1="526.30" y1="716.30" x2="526.30" y2="719.20" stroke="#505050" stroke-width="1.0"/>
<text x="526.30" y="726.80" font-size="9.0" text-anchor="middle" fill="#262626" stroke="#262626" stroke-width="0.18">0.06</text>
<line x1="567.10" y1="716.30" x2="567.10" y2="719.20" stroke="#505050" stroke-width="1.0"/>
<text x="567.10" y="726.80" font-size="9.0" text-anchor="middle" fill="#262626" stroke="#262626" stroke-width="0.18">0.09</text>
<line x1="607.90" y1="716.30" x2="607.90" y2="719.20" stroke="#505050" stroke-width="1.0"/>
<text x="607.90" y="726.80" font-size="9.0" text-anchor="middle" fill="#262626" stroke="#262626" stroke-width="0.18">0.12</text>
<text x="560.55" y="737.80" font-size="9.0" text-anchor="middle" fill="#1a1a1a" stroke="#1a1a1a" stroke-width="0.18">GeneRatio</text>
<text x="649.60" y="495.00" font-size="8.2" text-anchor="start" fill="#1a1a1a" stroke="#1a1a1a" stroke-width="0.18">qvalue</text>
<defs><linearGradient id="gC" x1="0" y1="0" x2="0" y2="1"><stop offset="0.000" stop-color="#FF0000"/><stop offset="0.050" stop-color="#FB001A"/><stop offset="0.100" stop-color="#F6002A"/><stop offset="0.150" stop-color="#F20037"/><stop offset="0.200" stop-color="#ED0044"/><stop offset="0.250" stop-color="#E80050"/><stop offset="0.300" stop-color="#E3005B"/><stop offset="0.350" stop-color="#DD0066"/><stop offset="0.400" stop-color="#D70072"/><stop offset="0.450" stop-color="#D1007D"/><stop offset="0.500" stop-color="#CA0088"/><stop offset="0.550" stop-color="#C20094"/><stop offset="0.600" stop-color="#BA009F"/><stop offset="0.650" stop-color="#B000AB"/><stop offset="0.700" stop-color="#A600B7"/><stop offset="0.750" stop-color="#9A00C3"/><stop offset="0.800" stop-color="#8D00CE"/><stop offset="0.850" stop-color="#7C00DA"/><stop offset="0.900" stop-color="#6800E7"/><stop offset="0.950" stop-color="#4B00F3"/><stop offset="1.000" stop-color="#0000FF"/></linearGradient></defs>
<rect x="649.4" y="500.9" width="13.5" height="66.70000000000005" fill="url(#gC)"/>
<line x1="649.40" y1="511.40" x2="652.10" y2="511.40" stroke="#ffffff" stroke-width="0.6"/>
<line x1="660.20" y1="511.40" x2="662.90" y2="511.40" stroke="#ffffff" stroke-width="0.6"/>
<line x1="649.40" y1="524.60" x2="652.10" y2="524.60" stroke="#ffffff" stroke-width="0.6"/>
<line x1="660.20" y1="524.60" x2="662.90" y2="524.60" stroke="#ffffff" stroke-width="0.6"/>
<line x1="649.40" y1="538.40" x2="652.10" y2="538.40" stroke="#ffffff" stroke-width="0.6"/>
<line x1="660.20" y1="538.40" x2="662.90" y2="538.40" stroke="#ffffff" stroke-width="0.6"/>
<line x1="649.40" y1="551.80" x2="652.10" y2="551.80" stroke="#ffffff" stroke-width="0.6"/>
<line x1="660.20" y1="551.80" x2="662.90" y2="551.80" stroke="#ffffff" stroke-width="0.6"/>
<line x1="649.40" y1="565.70" x2="652.10" y2="565.70" stroke="#ffffff" stroke-width="0.6"/>
<line x1="660.20" y1="565.70" x2="662.90" y2="565.70" stroke="#ffffff" stroke-width="0.6"/>
<text x="666.80" y="513.80" font-size="6.8" text-anchor="start" fill="#262626" stroke="#262626" stroke-width="0.18">0.001</text>
<text x="666.80" y="527.00" font-size="6.8" text-anchor="start" fill="#262626" stroke="#262626" stroke-width="0.18">0.002</text>
<text x="666.80" y="540.80" font-size="6.8" text-anchor="start" fill="#262626" stroke="#262626" stroke-width="0.18">0.003</text>
<text x="666.80" y="554.20" font-size="6.8" text-anchor="start" fill="#262626" stroke="#262626" stroke-width="0.18">0.004</text>
<text x="666.80" y="568.10" font-size="6.8" text-anchor="start" fill="#262626" stroke="#262626" stroke-width="0.18">0.005</text>
<text x="649.60" y="592.20" font-size="8.4" text-anchor="start" fill="#1a1a1a" stroke="#1a1a1a" stroke-width="0.18">Count</text>
<circle cx="657.90" cy="604.00" r="4.65" fill="#000"/>
<text x="670.40" y="606.40" font-size="6.8" text-anchor="start" fill="#262626" stroke="#262626" stroke-width="0.18">10</text>
<circle cx="657.90" cy="617.30" r="5.65" fill="#000"/>
<text x="670.40" y="619.70" font-size="6.8" text-anchor="start" fill="#262626" stroke="#262626" stroke-width="0.18">15</text>
<circle cx="657.90" cy="631.70" r="6.30" fill="#000"/>
<text x="670.40" y="634.10" font-size="6.8" text-anchor="start" fill="#262626" stroke="#262626" stroke-width="0.18">20</text>
<circle cx="657.90" cy="647.70" r="7.05" fill="#000"/>
<text x="670.40" y="650.10" font-size="6.8" text-anchor="start" fill="#262626" stroke="#262626" stroke-width="0.18">25</text>
<text x="368.45" y="431.40" font-size="17.5" text-anchor="start" fill="#000" stroke="#000" stroke-width="0.18">C</text>
</svg></body></html>
